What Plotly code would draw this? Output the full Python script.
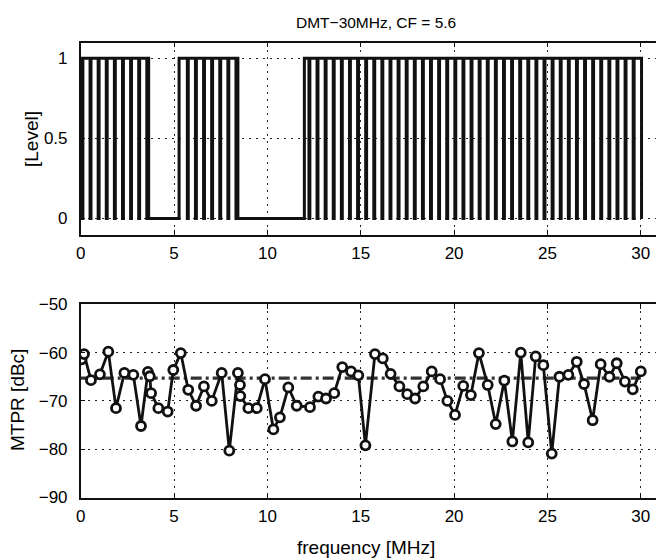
import plotly.graph_objects as go

# ---------------- data ----------------
# Top panel: DMT tone allocation (active bands and tone grid)
band_starts = [0.0, 5.27, 11.98]          # MHz, rising edges of active bands
band_ends = [3.64, 8.42, 30.04]           # MHz, falling edges of active bands
tone_grid_first = 0.092                   # MHz, first tone boundary
tone_spacing = 0.4342                     # MHz
n_tone_bounds = 70
dip_width = 0.05                          # MHz, width of the dip at each tone boundary

# Bottom panel: MTPR per measured frequency
mtpr_freq = [0.05, 0.18, 0.55, 1.03, 1.48, 1.89, 2.34, 2.82, 3.23, 3.60, 3.70, 3.77,
             4.16, 4.66, 4.96, 5.36, 5.76, 6.18, 6.60, 7.02, 7.55, 7.96, 8.42, 8.53,
             8.55, 8.98, 9.43, 9.87, 10.32, 10.67, 11.12, 11.57, 12.28, 12.73, 13.14,
             13.58, 14.01, 14.48, 14.87, 15.25, 15.76, 16.18, 16.60, 17.07, 17.49,
             17.91, 18.35, 18.80, 19.25, 19.64, 20.05, 20.49, 20.90, 21.33, 21.80,
             22.23, 22.69, 23.12, 23.57, 23.97, 24.37, 24.78, 25.23, 25.64, 26.12,
             26.57, 26.96, 27.42, 27.85, 28.32, 28.71, 29.15, 29.57, 30.00]
mtpr_dbc = [-61.4, -60.3, -65.7, -64.5, -59.8, -71.5, -64.2, -64.6, -75.2, -64.0, -64.9, -68.4,
            -71.5, -72.2, -63.6, -60.1, -67.7, -71.0, -67.0, -70.0, -64.2, -80.3, -64.2, -66.7,
            -69.0, -71.5, -71.5, -65.5, -75.9, -73.4, -67.2, -71.0, -71.3, -69.1, -69.5,
            -68.4, -63.0, -63.9, -64.7, -79.2, -60.3, -61.2, -64.4, -67.0, -68.6,
            -69.5, -67.0, -63.9, -65.5, -70.0, -72.9, -66.9, -68.8, -60.1, -66.7,
            -74.8, -65.8, -78.4, -60.0, -78.6, -60.8, -62.6, -80.9, -65.0, -64.6,
            -61.9, -66.5, -74.0, -62.4, -65.0, -62.2, -66.0, -67.6, -63.9]
mtpr_mean_x = [0.0, 30.0]
mtpr_mean_y = [-65.3, -65.3]

title_text = "DMT\u221230MHz, CF = 5.6"
x_ticks = [0, 5, 10, 15, 20, 25, 30]
top_y_ticks = [0, 0.5, 1]
top_y_labels = ["0", "0.5", "1"]
bot_y_ticks = [-90, -80, -70, -60, -50]
bot_y_labels = ["\u221290", "\u221280", "\u221270", "\u221260", "\u221250"]

# ---------------- build top square-wave trace ----------------
bounds = [tone_grid_first + tone_spacing * j for j in range(n_tone_bounds)]
lx, ly = [0.0], [0.0]
for s, e in zip(band_starts, band_ends):
    lx += [s, s]
    ly += [0, 1]
    for b in bounds:
        if s + dip_width < b < e - dip_width:
            lx += [b - dip_width / 2, b - dip_width / 2, b + dip_width / 2, b + dip_width / 2]
            ly += [1, 0, 0, 1]
    lx += [e, e]
    ly += [1, 0]

# ---------------- figure ----------------
W, H = 656, 559
FONT = "Liberation Sans, Arial, sans-serif"

def px_x(p):
    return p / W

def px_y(p):
    return 1 - p / H

fig = go.Figure()
fig.add_trace(go.Scatter(x=lx, y=ly, mode="lines", line=dict(color="#111111", width=3.0),
                         xaxis="x", yaxis="y", hoverinfo="skip", showlegend=False))
fig.add_trace(go.Scatter(x=mtpr_mean_x, y=mtpr_mean_y, mode="lines",
                         line=dict(color="#333333", width=3.2, dash="11px,4px,3px,4px"),
                         xaxis="x2", yaxis="y2", showlegend=False))
fig.add_trace(go.Scatter(x=mtpr_freq, y=mtpr_dbc, mode="lines+markers",
                         line=dict(color="#111111", width=2.8),
                         marker=dict(symbol="circle", size=9, color="white",
                                     line=dict(color="#111111", width=2.8)),
                         xaxis="x2", yaxis="y2", showlegend=False))

x0_px = 80.7
xr = [0, (W - x0_px) / 18.67]
tick_font = dict(family=FONT, size=17, color="black")
common_x = dict(range=xr, tickmode="array", tickvals=x_ticks, ticks="inside", ticklen=5,
                tickcolor="#111111", showline=True, linecolor="#111111", linewidth=1.5,
                mirror="ticks", showgrid=True, gridcolor="#222222", gridwidth=1,
                griddash="2px,5px", zeroline=False, automargin=False,
                tickfont=tick_font, ticklabelstandoff=2)
common_y = dict(ticks="inside", ticklen=5, tickcolor="#111111", showline=True,
                linecolor="#111111", linewidth=1.5, mirror=False, showgrid=True,
                gridcolor="#222222", gridwidth=1, griddash="2px,5px", zeroline=False,
                automargin=False, tickfont=tick_font, ticklabelstandoff=8)

ann_font = dict(family=FONT, size=19, color="black")
fig.update_layout(
    width=W, height=H, margin=dict(l=0, r=0, t=0, b=0, pad=0, autoexpand=False),
    paper_bgcolor="white", plot_bgcolor="white",
    xaxis=dict(domain=[px_x(x0_px), 1], anchor="y", **common_x),
    yaxis=dict(domain=[px_y(235.2), px_y(42.5)], anchor="x", range=[-0.104, 1.099],
               tickmode="array", tickvals=top_y_ticks, ticktext=top_y_labels, **common_y),
    xaxis2=dict(domain=[px_x(x0_px), 1], anchor="y2", **common_x),
    yaxis2=dict(domain=[px_y(497.5), px_y(304.3)], anchor="x2", range=[-90, -50],
                tickmode="array", tickvals=bot_y_ticks, ticktext=bot_y_labels, **common_y),
    annotations=[
        dict(text=title_text, x=px_x(376), y=px_y(22), xref="paper", yref="paper",
             xanchor="center", yanchor="middle", showarrow=False,
             font=dict(family=FONT, size=15.5, color="black")),
        dict(text="[Level]", x=px_x(32), y=px_y(139), xref="paper", yref="paper",
             xanchor="center", yanchor="middle", showarrow=False, textangle=-90, font=ann_font),
        dict(text="MTPR [dBc]", x=px_x(17), y=px_y(400), xref="paper", yref="paper",
             xanchor="center", yanchor="middle", showarrow=False, textangle=-90, font=ann_font),
        dict(text="frequency [MHz]", x=px_x(366), y=px_y(547), xref="paper", yref="paper",
             xanchor="center", yanchor="middle", showarrow=False, font=ann_font),
    ],
)

fig.write_html(
    "out.html",
    config={"displayModeBar": False},
    post_script=("document.body.style.margin='0';"
                 "document.body.style.overflow='hidden';"
                 "document.documentElement.style.overflow='hidden';"),
)
